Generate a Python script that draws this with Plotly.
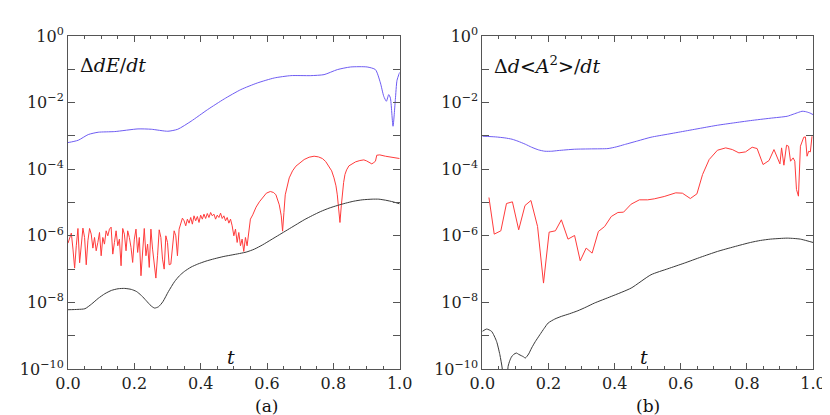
import numpy as np
import plotly.graph_objects as go
from plotly.subplots import make_subplots

# values, stored as log10 of the quantity

# panel (a)  Delta dE/dt
t_blue_a = [0.0, 0.006, 0.031, 0.061, 0.091, 0.141, 0.211, 0.251, 0.301, 0.331, 0.371,
            0.421, 0.471, 0.521, 0.571, 0.622, 0.672, 0.732, 0.772, 0.812, 0.852, 0.902,
            0.927, 0.942, 0.952, 0.960, 0.967, 0.972, 0.980, 0.987, 0.992, 1.0]
lg_blue_a = [-3.20, -3.19, -3.13, -2.96, -2.89, -2.87, -2.79, -2.80, -2.86, -2.80, -2.56,
             -2.21, -1.89, -1.61, -1.41, -1.26, -1.19, -1.19, -1.16, -1.01, -0.93, -0.93,
             -1.01, -1.41, -1.81, -1.96, -1.76, -1.86, -2.71, -1.91, -1.33, -1.09]

t_red_a = [0.000, 0.005, 0.010, 0.015, 0.020, 0.025, 0.030, 0.035, 0.040, 0.045,
           0.050, 0.055, 0.060, 0.065, 0.070, 0.075, 0.080, 0.085, 0.090, 0.095,
           0.100, 0.105, 0.110, 0.115, 0.120, 0.125, 0.130, 0.135, 0.140, 0.145,
           0.150, 0.155, 0.160, 0.165, 0.170, 0.175, 0.180, 0.185, 0.190, 0.195,
           0.200, 0.205, 0.210, 0.215, 0.220, 0.225, 0.230, 0.235, 0.240, 0.245,
           0.250, 0.255, 0.260, 0.265, 0.270, 0.275, 0.280, 0.285, 0.290, 0.295,
           0.300, 0.305, 0.310, 0.315, 0.320, 0.325, 0.330, 0.335, 0.340, 0.345,
           0.350, 0.355, 0.360, 0.365, 0.370, 0.375, 0.380, 0.385, 0.390, 0.395,
           0.400, 0.405, 0.410, 0.415, 0.420, 0.425, 0.430, 0.435, 0.440, 0.445,
           0.450, 0.455, 0.460, 0.465, 0.470, 0.475, 0.480, 0.485, 0.490, 0.495,
           0.500, 0.505, 0.510, 0.515, 0.520, 0.525, 0.530, 0.535, 0.540, 0.545,
           0.550, 0.557, 0.567, 0.577, 0.587, 0.598, 0.610, 0.620, 0.627, 0.637,
           0.643, 0.647, 0.651, 0.655, 0.667, 0.677, 0.687, 0.700, 0.712, 0.727,
           0.742, 0.755, 0.767, 0.777, 0.787, 0.795, 0.802, 0.808, 0.812, 0.816,
           0.820, 0.824, 0.827, 0.831, 0.835, 0.840, 0.847, 0.857, 0.867, 0.880,
           0.892, 0.900, 0.907, 0.916, 0.922, 0.927, 0.931, 0.940, 0.957, 0.977, 1.0]
lg_red_a = [-6.22, -6.05, -5.92, -6.40, -6.97, -6.30, -5.78, -6.81, -6.35, -5.77,
            -6.05, -6.87, -6.15, -5.78, -5.95, -6.37, -6.05, -6.45, -6.20, -5.90,
            -6.60, -6.05, -6.25, -5.85, -6.00, -5.80, -5.74, -6.55, -6.20, -5.85,
            -6.30, -6.10, -6.90, -5.78, -5.95, -6.45, -5.85, -6.05, -6.35, -6.80,
            -6.10, -5.80, -6.50, -6.05, -7.20, -6.40, -5.78, -6.60, -6.25, -6.95,
            -5.80, -6.40, -6.85, -7.27, -6.60, -5.82, -6.05, -6.70, -7.00, -6.00,
            -6.20, -6.87, -6.85, -6.40, -5.85, -6.00, -6.60, -5.80, -5.65, -5.47,
            -5.55, -5.70, -5.50, -5.62, -5.45, -5.65, -5.40, -5.55, -5.42, -5.60,
            -5.38, -5.50, -5.35, -5.48, -5.33, -5.45, -5.30, -5.40, -5.35, -5.50,
            -5.38, -5.45, -5.32, -5.48, -5.40, -5.55, -5.45, -5.62, -5.50, -5.70,
            -6.00, -5.80, -6.20, -5.90, -6.30, -6.10, -6.47, -6.05, -6.30, -5.90,
            -5.50, -5.37, -5.14, -4.98, -4.86, -4.72, -4.67, -4.70, -4.77, -5.07,
            -5.40, -5.86, -5.30, -4.77, -4.26, -4.05, -3.91, -3.80, -3.71, -3.64,
            -3.61, -3.63, -3.68, -3.77, -3.91, -4.05, -4.26, -4.50, -4.77, -5.10,
            -5.60, -5.10, -4.77, -4.40, -4.16, -4.02, -3.90, -3.83, -3.78, -3.74,
            -3.72, -3.75, -3.79, -3.84, -3.80, -3.76, -3.58, -3.57, -3.61, -3.64, -3.68]

t_black_a = [0.0, 0.03, 0.051, 0.071, 0.091, 0.111, 0.131, 0.151, 0.171, 0.191, 0.206,
             0.221, 0.236, 0.250, 0.261, 0.273, 0.286, 0.303, 0.321, 0.336, 0.351, 0.371,
             0.391, 0.416, 0.441, 0.470, 0.497, 0.537, 0.562, 0.587, 0.612, 0.637, 0.662,
             0.687, 0.712, 0.737, 0.762, 0.787, 0.812, 0.837, 0.862, 0.887, 0.917, 0.937,
             0.957, 0.980, 1.0]
lg_black_a = [-8.22, -8.21, -8.19, -8.05, -7.88, -7.74, -7.64, -7.59, -7.58, -7.61, -7.67,
              -7.79, -7.95, -8.10, -8.17, -8.13, -7.98, -7.67, -7.38, -7.20, -7.07, -6.94,
              -6.85, -6.76, -6.69, -6.62, -6.57, -6.49, -6.40, -6.27, -6.12, -5.97, -5.82,
              -5.67, -5.52, -5.39, -5.27, -5.17, -5.09, -5.02, -4.96, -4.92, -4.90, -4.90,
              -4.93, -4.98, -5.04]

# panel (b)  Delta d<A^2>/dt
t_blue_b = [0.0, 0.040, 0.068, 0.090, 0.108, 0.130, 0.149, 0.170, 0.189, 0.210, 0.229,
            0.279, 0.330, 0.380, 0.405, 0.430, 0.470, 0.510, 0.560, 0.610, 0.660, 0.711,
            0.760, 0.811, 0.870, 0.922, 0.940, 0.957, 0.967, 0.977, 0.990, 1.0]
lg_blue_b = [-3.01, -3.03, -3.06, -3.10, -3.16, -3.25, -3.34, -3.42, -3.46, -3.46, -3.44,
             -3.40, -3.39, -3.38, -3.33, -3.26, -3.15, -3.04, -2.95, -2.86, -2.77, -2.68,
             -2.61, -2.54, -2.47, -2.41, -2.35, -2.29, -2.26, -2.27, -2.31, -2.36]

t_red_b = [0.020, 0.036, 0.056, 0.073, 0.091, 0.110, 0.129, 0.147, 0.167, 0.185,
           0.202, 0.221, 0.239, 0.259, 0.279, 0.296, 0.314, 0.332, 0.351, 0.370,
           0.390, 0.410, 0.427, 0.450, 0.475, 0.500, 0.520, 0.550, 0.585, 0.605,
           0.629, 0.649, 0.666, 0.686, 0.711, 0.736, 0.756, 0.776, 0.796, 0.816,
           0.831, 0.849, 0.867, 0.882, 0.900, 0.905, 0.912, 0.920, 0.926, 0.932,
           0.940, 0.945, 0.950, 0.956, 0.962, 0.972, 0.977, 0.982, 0.987, 0.992, 0.997]
lg_red_b = [-4.85, -5.95, -5.85, -5.03, -4.98, -5.82, -5.09, -4.94, -5.72, -7.42,
            -5.89, -5.85, -5.52, -6.10, -5.99, -6.75, -6.37, -6.52, -5.87, -5.72,
            -5.42, -5.30, -5.29, -5.05, -4.92, -4.92, -4.89, -4.82, -4.71, -4.72,
            -4.88, -4.74, -4.16, -3.71, -3.43, -3.36, -3.41, -3.51, -3.48, -3.34,
            -3.38, -3.86, -3.74, -3.41, -3.84, -3.36, -3.88, -3.28, -3.31, -3.76,
            -3.66, -3.76, -4.61, -4.81, -3.31, -3.04, -3.03, -3.61, -3.46, -3.48, -3.01]

t_black_b = [0.0, 0.013, 0.028, 0.043, 0.053, 0.060, 0.066, 0.073, 0.078, 0.083, 0.088,
             0.095, 0.103, 0.110, 0.118, 0.124, 0.130, 0.140, 0.149, 0.160, 0.174, 0.187,
             0.199, 0.219, 0.239, 0.264, 0.289, 0.314, 0.339, 0.390, 0.450, 0.510, 0.561,
             0.611, 0.661, 0.711, 0.761, 0.811, 0.841, 0.871, 0.900, 0.922, 0.942, 0.962,
             0.982, 1.0]
lg_black_b = [-8.87, -8.80, -8.87, -9.17, -9.57, -9.97, -10.6, -10.5, -9.92, -9.75, -9.64,
              -9.56, -9.52, -9.56, -9.60, -9.63, -9.67, -9.55, -9.37, -9.18, -8.97, -8.78,
              -8.62, -8.50, -8.42, -8.34, -8.25, -8.14, -8.02, -7.82, -7.57, -7.17, -6.99,
              -6.82, -6.64, -6.47, -6.33, -6.20, -6.14, -6.10, -6.08, -6.07, -6.08, -6.10,
              -6.15, -6.20]

ytick_vals = [1.0, 1e-2, 1e-4, 1e-6, 1e-8, 1e-10]
ytick_text = ["10<sup>0</sup>", "10<sup>\u22122</sup>", "10<sup>\u22124</sup>",
              "10<sup>\u22126</sup>", "10<sup>\u22128</sup>", "10<sup>\u221210</sup>"]
ytick_minor = [1e-1, 1e-3, 1e-5, 1e-7, 1e-9]

BLUE = "#6e5cf2"
RED = "#ff3b3b"
BLACK = "#3a3a3a"
SERIF = "DejaVu Serif"

fig = make_subplots(rows=1, cols=2)

panels = [
    (1, [(t_blue_a, lg_blue_a, BLUE, "spline"), (t_red_a, lg_red_a, RED, "linear"),
         (t_black_a, lg_black_a, BLACK, "spline")]),
    (2, [(t_blue_b, lg_blue_b, BLUE, "spline"), (t_red_b, lg_red_b, RED, "linear"),
         (t_black_b, lg_black_b, BLACK, "spline")]),
]
for col, series in panels:
    for t, lg, color, shape in series:
        fig.add_trace(
            go.Scatter(x=t, y=np.power(10.0, lg), mode="lines",
                       line=dict(color=color, width=1, shape=shape, smoothing=0.6),
                       showlegend=False),
            row=1, col=col,
        )

axis_common = dict(showgrid=False, zeroline=False, showline=True, mirror="ticks",
                   linecolor="#555", linewidth=1, ticks="inside", tickcolor="#555",
                   tickfont=dict(family=SERIF, size=16, color="#222"))

fig.update_xaxes(range=[0, 1], tickvals=[0, 0.2, 0.4, 0.6, 0.8, 1.0],
                 ticktext=["0.0", "0.2", "0.4", "0.6", "0.8", "1.0"], ticklen=6,
                 minor=dict(dtick=0.05, ticks="inside", ticklen=3, tickcolor="#555"),
                 **axis_common)
fig.update_yaxes(type="log", range=[-10, 0], tickvals=ytick_vals, ticktext=ytick_text,
                 ticklen=7,
                 minor=dict(tickvals=ytick_minor, ticks="inside", ticklen=7, tickcolor="#555"),
                 **axis_common)

fig.update_layout(
    width=830, height=415,
    margin=dict(l=58, r=24, t=28, b=54),
    paper_bgcolor="white", plot_bgcolor="white",
    font=dict(family=SERIF, size=15, color="#222"),
    xaxis=dict(domain=[0, 333 / 748]),
    xaxis2=dict(domain=[416 / 748, 1.0]),
)

ann_font = dict(family=SERIF, size=19, color="#111")
fig.add_annotation(text="\u0394<i>dE</i>/<i>dt</i>", xref="x domain", yref="y domain",
                   x=0.03, y=0.913, xanchor="left", yanchor="middle", showarrow=False,
                   font=ann_font)
fig.add_annotation(text="\u0394<i>d</i>&lt;<i>A</i><sup>2</sup>&gt;/<i>dt</i>",
                   xref="x2 domain", yref="y2 domain", x=0.03, y=0.913,
                   xanchor="left", yanchor="middle", showarrow=False, font=ann_font)
for ax in ["x", "x2"]:
    fig.add_annotation(text="<i>t</i>", xref=ax + " domain", yref="y domain",
                       x=0.49, y=0.035, xanchor="center", yanchor="middle",
                       showarrow=False, font=ann_font)
fig.add_annotation(text="(a)", xref="paper", yref="paper", x=199 / 748, y=-0.111,
                   xanchor="center", yanchor="middle", showarrow=False,
                   font=dict(family=SERIF, size=17, color="#111"))
fig.add_annotation(text="(b)", xref="paper", yref="paper", x=582 / 748, y=-0.111,
                   xanchor="center", yanchor="middle", showarrow=False,
                   font=dict(family=SERIF, size=17, color="#111"))

fig.write_html("out.html")
